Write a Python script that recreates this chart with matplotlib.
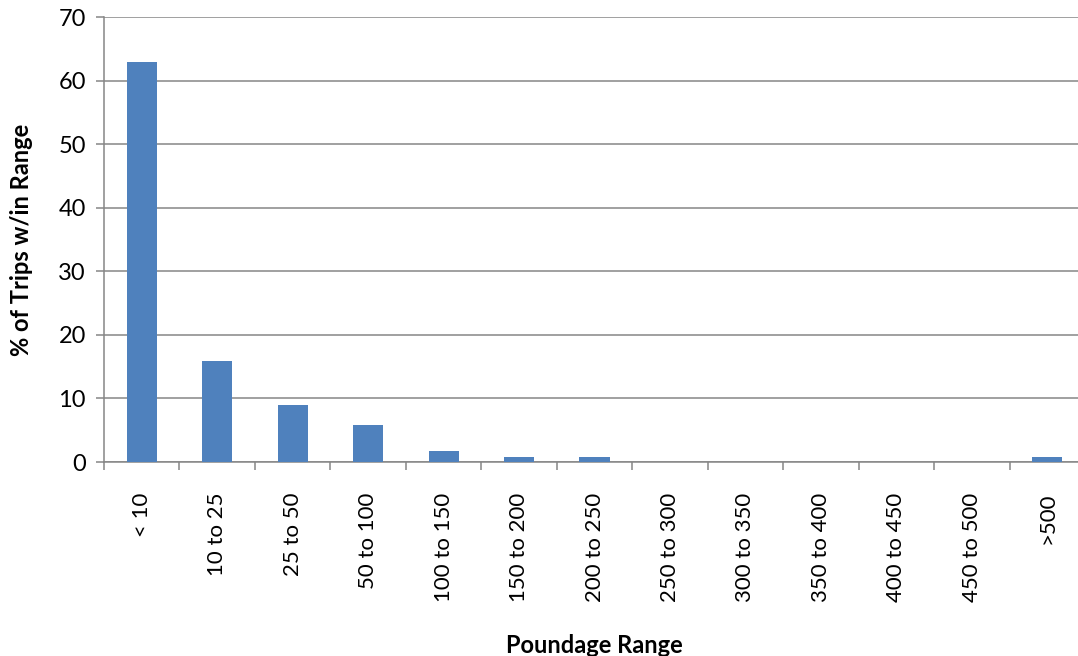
import matplotlib
matplotlib.use("Agg")
import matplotlib.pyplot as plt
import numpy as np

# Share of trips by poundage range
categories = ['< 10', '10 to 25', '25 to 50', '50 to 100', '100 to 150', '150 to 200',
              '200 to 250', '250 to 300', '300 to 350', '350 to 400', '400 to 450',
              '450 to 500', '>500']
pct_trips = [63, 15.9, 9, 5.8, 1.7, 0.8, 0.8, 0, 0, 0, 0, 0, 0.8]
y_ticks = [0, 10, 20, 30, 40, 50, 60, 70]

plt.rcParams['font.family'] = ['Lato', 'DejaVu Sans']

fig = plt.figure(figsize=(10.78, 6.56), dpi=100)
# the plot area runs past the right edge of the picture, as in the original
ax = fig.add_axes([0.0965, 0.2957, 0.910, 0.678])

x = np.arange(len(categories))
ax.bar(x, pct_trips, width=0.4, color='#4f81bd', zorder=3)

ax.set_xlim(-0.5, len(categories) - 0.5)
ax.set_ylim(0, 70)
ax.set_yticks(y_ticks)
ax.yaxis.grid(True, color='#868686', linewidth=1.1, zorder=0)

# category labels between boundary ticks
ax.set_xticks(np.arange(len(categories) + 1) - 0.5)
ax.set_xticklabels([])
ax.set_xticks(x, minor=True)
ax.set_xticklabels(categories, minor=True, rotation=90, fontsize=16)
ax.tick_params(axis='x', which='minor', length=0, pad=22)
ax.tick_params(axis='x', which='major', length=6, width=1.1, color='#868686')
ax.tick_params(axis='y', length=6, width=1.1, color='#868686', labelsize=17, pad=7)

for side in ['top', 'right']:
    ax.spines[side].set_visible(False)
for side in ['left', 'bottom']:
    ax.spines[side].set_color('#868686')
    ax.spines[side].set_linewidth(1.1)

ax.set_ylabel('% of Trips w/in Range', fontsize=17, fontweight='bold', labelpad=18)
ax.set_xlabel('Poundage Range', fontsize=17, fontweight='bold', labelpad=23)

plt.savefig('out.png', dpi=100)
